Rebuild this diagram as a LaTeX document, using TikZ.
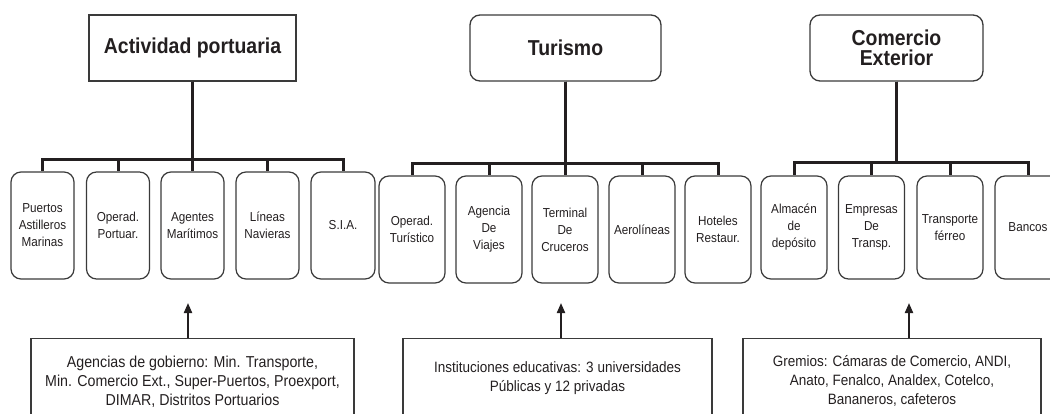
\documentclass[tikz,border=0pt]{standalone}
\usepackage{fontspec}
\setmainfont{Liberation Sans}[FakeStretch=0.9]
\usetikzlibrary{arrows.meta}

\definecolor{ink}{HTML}{231F20}
\definecolor{boxgray}{HTML}{3A3A3A}

\begin{document}
\begin{tikzpicture}[x=1pt,y=-1pt,
    head/.style={draw=boxgray,line width=1.3pt,minimum height=66pt,inner sep=0pt,
      text=ink,align=center,font=\fontsize{21.6}{19.5}\selectfont\bfseries},
    leaf/.style={draw=boxgray,line width=1.2pt,rounded corners=10pt,minimum height=107pt,
      minimum width=66pt,inner sep=0pt,text=ink,align=center,font=\fontsize{13}{17}\selectfont},
    note/.style={draw=boxgray,line width=1.2pt,anchor=north,inner sep=0pt,text depth=40pt,
      text=ink,align=center,font=\fontsize{15}{19}\selectfont},
    tree/.style={draw=ink,line width=3pt},
    uparrow/.style={draw=ink,line width=2pt,-{Triangle[length=10pt,width=8pt]}}]
    \useasboundingbox (0,0) rectangle (1050,414);
    \clip (0,0) rectangle (1050,414);

    \node[head,minimum width=207pt] (ap) at (192.5,48) {Actividad portuaria};
    \node[head,rounded corners=10pt,minimum width=191pt] (tur) at (565.5,48) {Turismo};
    \node[head,rounded corners=10pt,minimum width=173pt] (ce) at (896.5,48) {Comercio\\Exterior};

    \node[leaf,minimum width=63pt] (pu) at (42.5,225.5) {Puertos\\Astilleros\\Marinas};
    \node[leaf,minimum width=63pt] (op) at (118,225.5) {Operad.\\Portuar.};
    \node[leaf,minimum width=63pt] (am) at (192.5,225.5) {Agentes\\Marítimos};
    \node[leaf,minimum width=63pt] (ln) at (267.5,225.5) {Líneas\\Navieras};
    \node[leaf,minimum width=64pt] (sia) at (343,225.5) {S.I.A.};

    \node[leaf] (ot) at (412,229.5) {Operad.\\Turístico};
    \node[leaf] (av) at (489,229.5) {Agencia\\De\\Viajes};
    \node[leaf] (tc) at (565,229.5) {Terminal\\De\\Cruceros};
    \node[leaf] (ae) at (642,229.5) {Aerolíneas};
    \node[leaf] (hr) at (718,229.5) {Hoteles\\Restaur.};

    \node[leaf,minimum height=103pt] (al) at (794,227.5) {Almacén\\de\\depósito};
    \node[leaf,minimum height=103pt] (et) at (871.5,227.5) {Empresas\\De\\Transp.};
    \node[leaf,minimum height=103pt] (tf) at (950,227.5) {Transporte\\férreo};
    \node[leaf,minimum height=103pt] (ba) at (1028,227.5) {Bancos};

    \foreach \c in {pu,op,am,ln,sia}
      \draw[tree] (ap.south) -- ++(0,78) -| (\c.north);
    \foreach \c in {ot,av,tc,ae,hr}
      \draw[tree] (tur.south) -- ++(0,82) -| (\c.north);
    \foreach \c in {al,et,tf,ba}
      \draw[tree] (ce.south) -- ++(0,81) -| (\c.north);

    \node[note,minimum width=323pt,text height=67pt,font=\fontsize{15.8}{19}\selectfont] (gov) at (192.5,338)
      {Agencias de gobierno: Min. Transporte,\\Min. Comercio Ext., Super-Puertos, Proexport,\\DIMAR, Distritos Portuarios};
    \node[note,minimum width=309pt,text height=53pt] (edu) at (557.5,338)
      {Instituciones educativas: 3 universidades\\Públicas y 12 privadas};
    \node[note,minimum width=298pt,text height=66pt] (grem) at (892,338)
      {Gremios: Cámaras de Comercio, ANDI,\\Anato, Fenalco, Analdex, Cotelco,\\Bananeros, cafeteros};

    \coordinate (govtip) at (188,303);
    \coordinate (edutip) at (561,303);
    \coordinate (gremtip) at (909,303);
    \draw[uparrow] (gov.north -| govtip) -- (govtip);
    \draw[uparrow] (edu.north -| edutip) -- (edutip);
    \draw[uparrow] (grem.north -| gremtip) -- (gremtip);
\end{tikzpicture}
\end{document}
